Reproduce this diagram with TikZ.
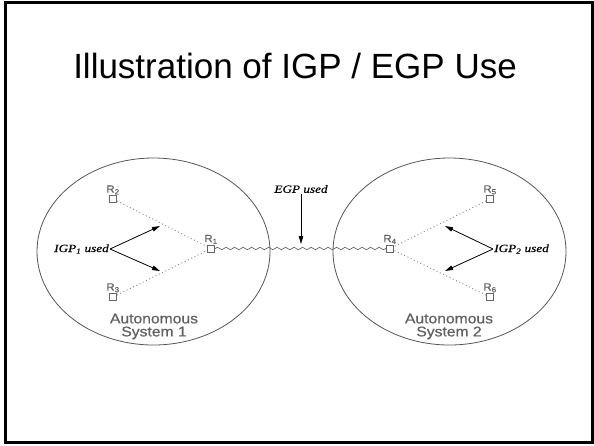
\documentclass[tikz,border=0pt]{standalone}
\usepackage{fontspec}
\setmainfont{Liberation Sans}
\newfontfamily\titlefont{Liberation Sans}
\newfontfamily\notefont[FakeStretch=1.2,FakeBold=0.4]{Liberation Serif}
\newfontfamily\sysfont[FakeStretch=1.12,FakeBold=0.6]{Liberation Sans}
\newfontfamily\rtrfont[FakeStretch=1.1,FakeBold=0.5]{Liberation Sans}
\usepackage{xcolor}
\usepackage{tikz}
\usetikzlibrary{arrows.meta,decorations.pathmorphing}

\definecolor{linegray}{HTML}{555555}
\definecolor{boxgray}{HTML}{666666}
\definecolor{labgray}{HTML}{606060}
\definecolor{dotgray}{HTML}{8A8A8A}

\begin{document}
\begin{tikzpicture}[
  x=1pt, y=-1pt,
  >={Triangle[length=8pt,width=4.5pt]},
  router/.style={draw=boxgray, line width=0.9pt, minimum size=7pt,
                 inner sep=0pt, fill=white},
  rlab/.style={font=\rtrfont\fontsize{10.5}{11}\selectfont, text=labgray,
               inner sep=0.5pt},
  link/.style={draw=dotgray, line width=0.9pt, dash pattern=on 1pt off 2.6pt},
  wan/.style={draw=boxgray, line width=0.7pt, decorate,
              decoration={snake, amplitude=1.2pt, segment length=8.5pt}},
  note/.style={font=\notefont\itshape\fontsize{11}{12}\selectfont,
               inner sep=1pt},
  ptr/.style={->, line width=0.8pt, black},
  syslab/.style={font=\sysfont\fontsize{14}{13}\selectfont, text=labgray,
                 align=center, inner sep=0pt},
  region/.style={draw=linegray, line width=0.8pt},
]
\useasboundingbox (0,0) rectangle (594,445);

%% ── Slide frame and title ────────────────────────────────────────────────────
\draw[line width=2.5pt] (5.5,2.5) rectangle (592.5,442.5);
\node[font=\titlefont\fontsize{35}{40}\selectfont] (title) at (295,66)
  {Illustration of IGP / EGP Use};

%% ── Autonomous systems ───────────────────────────────────────────────────────
\coordinate (as1c) at (153.5,251.5);
\coordinate (as2c) at (449.5,251.5);
\draw[region] (as1c) ellipse [x radius=116.5pt, y radius=93.5pt];
\draw[region] (as2c) ellipse [x radius=116.5pt, y radius=93.5pt];
\node[syslab] (as1) at (154,326.5) {Autonomous\\System 1};
\node[syslab] (as2) at (449,326.5) {Autonomous\\System 2};

%% ── Routers ──────────────────────────────────────────────────────────────────
\node[router, label={[rlab]above:R\textsubscript{1}}] (r1) at (211,248.5) {};
\node[router, label={[rlab]above:R\textsubscript{2}}] (r2) at (113,199)   {};
\node[router, label={[rlab]above:R\textsubscript{3}}] (r3) at (113,297)   {};
\node[router, label={[rlab]above:R\textsubscript{4}}] (r4) at (390,248.5) {};
\node[router, label={[rlab]above:R\textsubscript{5}}] (r5) at (490,199)   {};
\node[router, label={[rlab]above:R\textsubscript{6}}] (r6) at (490,297)   {};

%% ── Interior links and the exterior link ─────────────────────────────────────
\draw[link] (r2) -- (r1);
\draw[link] (r3) -- (r1);
\draw[link] (r5) -- (r4);
\draw[link] (r6) -- (r4);
\draw[wan] (r1.east) -- (r4.west);

%% ── Protocol labels ──────────────────────────────────────────────────────────
\node[note, anchor=east] (igp1) at (110,249) {IGP\textsubscript{1} used};
\node[note, anchor=west] (igp2) at (493,249) {IGP\textsubscript{2} used};
\node[note] (egp) at (301,189) {EGP used};

\coordinate (igp1up) at (160,226);
\coordinate (igp1dn) at (160,271);
\coordinate (igp2up) at (445,226);
\coordinate (igp2dn) at (445,271);
\coordinate (egptip) at (301,244);

\draw[ptr] (igp1.east) -- (igp1up);
\draw[ptr] (igp1.east) -- (igp1dn);
\draw[ptr] (igp2.west) -- (igp2up);
\draw[ptr] (igp2.west) -- (igp2dn);
\draw[ptr] (egp.south) -- (egptip);

\end{tikzpicture}
\end{document}
